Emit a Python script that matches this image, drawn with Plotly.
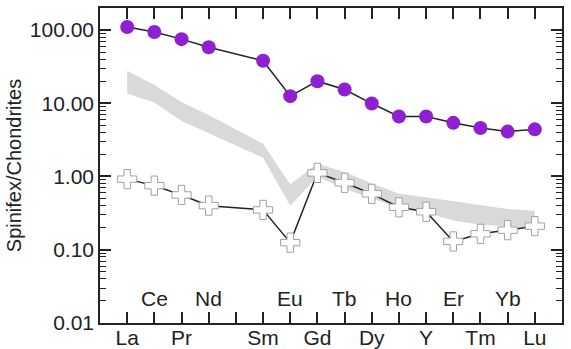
import plotly.graph_objects as go

elements = ["La", "Ce", "Pr", "Nd", "Pm", "Sm", "Eu", "Gd", "Tb", "Dy", "Ho", "Y", "Er", "Tm", "Yb", "Lu"]
bottom_labels = ["La", "", "Pr", "", "", "Sm", "", "Gd", "", "Dy", "", "Y", "", "Tm", "", "Lu"]
top_labels = ["Ce", "Nd", "Eu", "Tb", "Ho", "Er", "Yb"]

plotted = ["La", "Ce", "Pr", "Nd", "Sm", "Eu", "Gd", "Tb", "Dy", "Ho", "Y", "Er", "Tm", "Yb", "Lu"]
purple_vals = [110, 94, 75, 58, 38, 12.5, 20, 15.4, 9.9, 6.6, 6.6, 5.4, 4.6, 4.1, 4.4]
cross_vals = [0.92, 0.75, 0.56, 0.40, 0.35, 0.125, 1.12, 0.82, 0.58, 0.38, 0.33, 0.13, 0.165, 0.185, 0.21]
band_upper = [27.7, 17.7, 10.4, 6.9, 2.8, 0.78, 1.5, 1.15, 0.80, 0.58, 0.52, 0.46, 0.40, 0.36, 0.34]
band_lower = [13.6, 10.2, 5.7, 3.9, 1.8, 0.40, 1.0, 0.68, 0.50, 0.38, 0.32, 0.25, 0.22, 0.21, 0.20]

xpos = [elements.index(e) for e in plotted]

FONT = "Liberation Sans, Arial, sans-serif"

fig = go.Figure()
fig.add_trace(go.Scatter(x=xpos, y=band_lower, mode="lines", line=dict(width=0, color="rgba(0,0,0,0)"),
                         showlegend=False, hoverinfo="skip"))
fig.add_trace(go.Scatter(x=xpos, y=band_upper, mode="lines", line=dict(width=0, color="rgba(0,0,0,0)"),
                         fill="tonexty", fillcolor="#d8dada", showlegend=False, hoverinfo="skip"))
fig.add_trace(go.Scatter(x=xpos, y=cross_vals, mode="lines+markers",
                         line=dict(color="#222222", width=1.5),
                         marker=dict(symbol="cross", size=16, color="white",
                                     line=dict(color="#a0a0a0", width=1)),
                         showlegend=False))
fig.add_trace(go.Scatter(x=xpos, y=purple_vals, mode="lines+markers",
                         line=dict(color="#222222", width=1.5),
                         marker=dict(symbol="circle", size=14, color="#8e1fd2",
                                     line=dict(width=0)),
                         showlegend=False))

for lab in top_labels:
    fig.add_annotation(x=elements.index(lab), y=0.079, xref="x", yref="paper", text=lab,
                       showarrow=False, font=dict(size=21, color="#222222", family=FONT),
                       xanchor="center", yanchor="middle")

fig.update_xaxes(range=[-1, 16], tickmode="array", tickvals=list(range(len(elements))),
                 ticktext=bottom_labels, ticks="inside", ticklen=11, tickwidth=1.5, tickcolor="#222222",
                 showline=True, linecolor="#222222", linewidth=1.5, mirror="ticks",
                 showgrid=False, zeroline=False, automargin=False, ticklabelstandoff=-5,
                 tickfont=dict(size=21, color="#222222", family=FONT))
fig.update_yaxes(type="log", range=[-2, 2.3], dtick=1, tickformat=".2f",
                 ticks="inside", ticklen=11, tickwidth=1.5, tickcolor="#222222",
                 minor=dict(ticks="inside", ticklen=6, tickwidth=1, tickcolor="#222222", dtick="D1"),
                 showline=True, linecolor="#222222", linewidth=1.5, mirror="ticks",
                 showgrid=False, zeroline=False, automargin=False,
                 tickfont=dict(size=21, color="#222222", family=FONT),
                 title=dict(text="Spinifex/Chondrites", standoff=3,
                            font=dict(size=20, color="#222222", family=FONT)))
fig.update_layout(width=571, height=349, margin=dict(l=100, r=9, t=8, b=26),
                  plot_bgcolor="white", paper_bgcolor="white")
# remove the browser's default 8px body margin so the figure fills the window exactly
fig.write_html("out.html", config={"displayModeBar": False},
               post_script="document.body.style.margin='0';document.body.style.overflow='hidden';")
